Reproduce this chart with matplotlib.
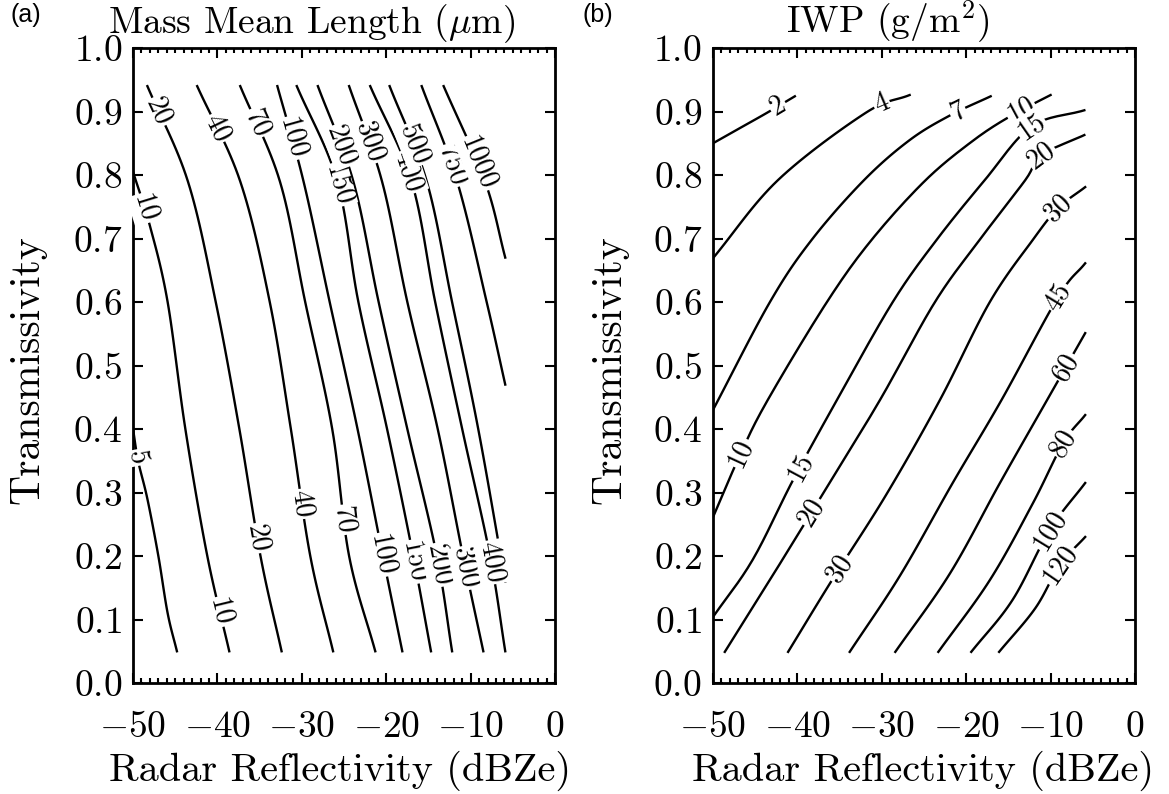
import numpy as np
import matplotlib
matplotlib.use('Agg')
import matplotlib.pyplot as plt

plt.rcParams.update({
    'font.family': 'serif',
    'font.serif': ['cmr10'],
    'mathtext.fontset': 'cm',
    'axes.formatter.use_mathtext': True,
    'axes.unicode_minus': True,
})

# ---- panel (a): mass mean length contours (um) ----
mml_levels = ['5', '10', '20', '40', '70', '100', '150', '200', '300', '400', '500', '750', '1000']
mml_x = [
    [-50.0, -49.4, -48.3, -47.0, -45.9, -44.8],
    [-50.0, -48.0, -45.9, -43.8, -41.2, -38.6],
    [-48.3, -43.5, -40.2, -37.4, -34.9, -32.4],
    [-42.4, -37.3, -33.8, -31.3, -29.0, -26.3],
    [-37.3, -32.6, -29.6, -26.4, -24.4, -21.3],
    [-32.9, -29.8, -26.7, -23.4, -20.4, -18.1],
    [-30.6, -25.8, -23.3, -19.9, -16.8, -14.7],
    [-28.1, -23.9, -20.9, -17.5, -14.0, -12.2],
    [-24.4, -20.5, -17.5, -13.9, -10.9, -8.5],
    [-21.9, -17.0, -14.2, -11.0, -7.7, -5.9],
    [-19.6, -15.2, -12.2, -9.1, -5.9],
    [-15.8, -11.6, -8.1, -5.9],
    [-13.2, -8.3, -5.9],
]
mml_y = [
    [0.40, 0.35, 0.29, 0.20, 0.11, 0.05],
    [0.805, 0.72, 0.60, 0.40, 0.20, 0.05],
    [0.94, 0.79, 0.60, 0.40, 0.20, 0.05],
    [0.94, 0.79, 0.60, 0.40, 0.20, 0.05],
    [0.94, 0.79, 0.60, 0.40, 0.20, 0.05],
    [0.94, 0.79, 0.60, 0.40, 0.20, 0.05],
    [0.94, 0.79, 0.60, 0.40, 0.20, 0.05],
    [0.94, 0.79, 0.60, 0.40, 0.20, 0.05],
    [0.94, 0.79, 0.60, 0.40, 0.20, 0.05],
    [0.94, 0.79, 0.60, 0.40, 0.20, 0.05],
    [0.94, 0.79, 0.60, 0.40, 0.16],
    [0.94, 0.79, 0.60, 0.47],
    [0.94, 0.79, 0.67],
]
# transmissivity at which each label sits
mml_label_at = [[0.355], [0.748, 0.112], [0.90, 0.228], [0.874, 0.282], [0.882, 0.257],
                [0.858, 0.202], [0.785, 0.191], [0.846, 0.186], [0.852, 0.181], [0.805, 0.19],
                [0.848], [0.815], [0.819]]

# ---- panel (b): IWP contours (g/m2) ----
iwp_levels = ['2', '4', '7', '10', '15', '20', '30', '45', '60', '80', '100', '120']
iwp_x = [
    [-50.0, -46.8, -43.6, -40.3],
    [-50.0, -42.3, -31.9, -26.7],
    [-50.0, -43.25, -38.3, -32.1, -26.7, -21.9, -17.1],
    [-50.0, -46.7, -43.5, -36.5, -31.2, -24.8, -19.1, -14.6, -10.0],
    [-50.0, -45.3, -40.5, -35.3, -28.7, -23.5, -17.8, -12.3, -6.0],
    [-48.6, -42.9, -36.7, -30.2, -23.7, -18.4, -13.0, -11.1, -6.0],
    [-41.1, -35.9, -29.5, -23.1, -17.2, -12.1, -9.1, -5.9],
    [-33.8, -27.8, -21.6, -15.8, -9.1, -5.9],
    [-28.4, -21.9, -16.0, -10.4, -5.9],
    [-23.3, -17.2, -12.1, -8.5, -5.9],
    [-19.4, -14.5, -10.1, -5.9],
    [-16.1, -11.8, -8.9, -5.9],
]
iwp_y = [
    [0.850, 0.874, 0.898, 0.924],
    [0.669, 0.792, 0.898, 0.926],
    [0.430, 0.600, 0.698, 0.792, 0.855, 0.894, 0.924],
    [0.261, 0.362, 0.446, 0.600, 0.698, 0.792, 0.855, 0.894, 0.926],
    [0.104, 0.194, 0.320, 0.446, 0.600, 0.698, 0.792, 0.876, 0.902],
    [0.049, 0.170, 0.304, 0.446, 0.600, 0.698, 0.792, 0.831, 0.863],
    [0.049, 0.162, 0.296, 0.446, 0.600, 0.698, 0.748, 0.781],
    [0.049, 0.170, 0.315, 0.446, 0.608, 0.661],
    [0.049, 0.173, 0.315, 0.446, 0.551],
    [0.049, 0.162, 0.283, 0.378, 0.422],
    [0.049, 0.131, 0.241, 0.315],
    [0.049, 0.118, 0.186, 0.230],
]
# reflectivity at which each label sits
iwp_label_at = [[-42.3], [-30.0], [-21.0], [-46.7, -13.5], [-39.7, -12.3], [-38.3, -11.1],
                [-35.0, -9.1], [-9.1], [-8.2], [-8.5], [-10.1], [-8.9]]


def catmull(xs, ys, n=16):
    p = np.column_stack([np.asarray(xs) / 50.0, np.asarray(ys)])
    p = np.vstack([2 * p[0] - p[1], p, 2 * p[-1] - p[-2]])
    t = np.linspace(0, 1, n, endpoint=False)[:, None]
    out = []
    for i in range(1, len(p) - 2):
        p0, p1, p2, p3 = p[i - 1], p[i], p[i + 1], p[i + 2]
        out.append(0.5 * (2 * p1 + (-p0 + p2) * t + (2 * p0 - 5 * p1 + 4 * p2 - p3) * t ** 2
                          + (-p0 + 3 * p1 - 3 * p2 + p3) * t ** 3))
    out.append(p[-2][None])
    out = np.vstack(out)
    return out[:, 0] * 50.0, out[:, 1]


def put_label(ax, cx, cy, txt, v, by):
    if by == 'y':
        o = np.argsort(cy)
        x, y = np.interp(v, cy[o], cx[o]), v
    else:
        x, y = v, np.interp(v, cx, cy)
    i = np.argmin(np.hypot((cx - x) / 50.0, cy - y))
    a, b = max(i - 3, 0), min(i + 3, len(cx) - 1)
    d0 = ax.transData.transform((cx[a], cy[a]))
    d1 = ax.transData.transform((cx[b], cy[b]))
    ang = np.degrees(np.arctan2(d1[1] - d0[1], d1[0] - d0[0]))
    if ang > 90:
        ang -= 180
    if ang < -90:
        ang += 180
    ax.text(x, y, txt, rotation=ang, rotation_mode='anchor', ha='center', va='center',
            fontsize=20, zorder=3, clip_on=False,
            bbox=dict(boxstyle='square,pad=0.05', fc='white', ec='none'))


def setup(ax):
    ax.set_xlim(-50, 0)
    ax.set_ylim(0, 1)
    ax.set_xticks(np.arange(-50, 1, 10))
    ax.set_xticks(np.arange(-50, 1, 1), minor=True)
    ax.set_yticks(np.round(np.arange(0, 1.01, 0.1), 1))
    ax.tick_params(which='both', direction='in', top=True, right=True, width=1.5)
    ax.tick_params(which='major', length=7.5, labelsize=27)
    ax.tick_params(which='minor', length=3.8)
    ax.tick_params(axis='x', pad=20)
    ax.tick_params(axis='y', pad=8)
    for s in ax.spines.values():
        s.set_linewidth(2)


fig = plt.figure(figsize=(11.69, 7.94), dpi=100)
ax1 = fig.add_axes([0.1138, 0.1398, 0.3610, 0.7997])
ax2 = fig.add_axes([0.6099, 0.1398, 0.3610, 0.7997])
setup(ax1)
setup(ax2)

for lev, xs, ys, at in zip(mml_levels, mml_x, mml_y, mml_label_at):
    cx, cy = catmull(xs, ys)
    ax1.plot(cx, cy, color='k', lw=1.7, zorder=2)
    for v in at:
        put_label(ax1, cx, cy, lev, v, 'y')

for lev, xs, ys, at in zip(iwp_levels, iwp_x, iwp_y, iwp_label_at):
    cx, cy = catmull(xs, ys)
    ax2.plot(cx, cy, color='k', lw=1.7, zorder=2)
    for v in at:
        put_label(ax2, cx, cy, lev, v, 'x')

fig.text(312 / 1169, 1 - 33 / 794, r'Mass Mean Length ($\mu$m)', ha='center', va='baseline', fontsize=27)
fig.text(888 / 1169, 1 - 33 / 794, r'IWP (g/m$^{2}$)', ha='center', va='baseline', fontsize=27)
for xc in (340 / 1169, 923 / 1169):
    fig.text(xc, 1 - 771 / 794, 'Radar Reflectivity (dBZe)', ha='center', va='center', fontsize=29)
for xc in (28 / 1169, 610 / 1169):
    fig.text(xc, 1 - 370 / 794, 'Transmissivity', ha='center', va='center', rotation=90, fontsize=30)

fig.text(10 / 1169, 1 - 3 / 794, '(a)', ha='left', va='top', fontsize=18, family='Liberation Sans')
fig.text(583 / 1169, 1 - 3 / 794, '(b)', ha='left', va='top', fontsize=18, family='Liberation Sans')

fig.savefig('out.png', dpi=100, facecolor='white')
